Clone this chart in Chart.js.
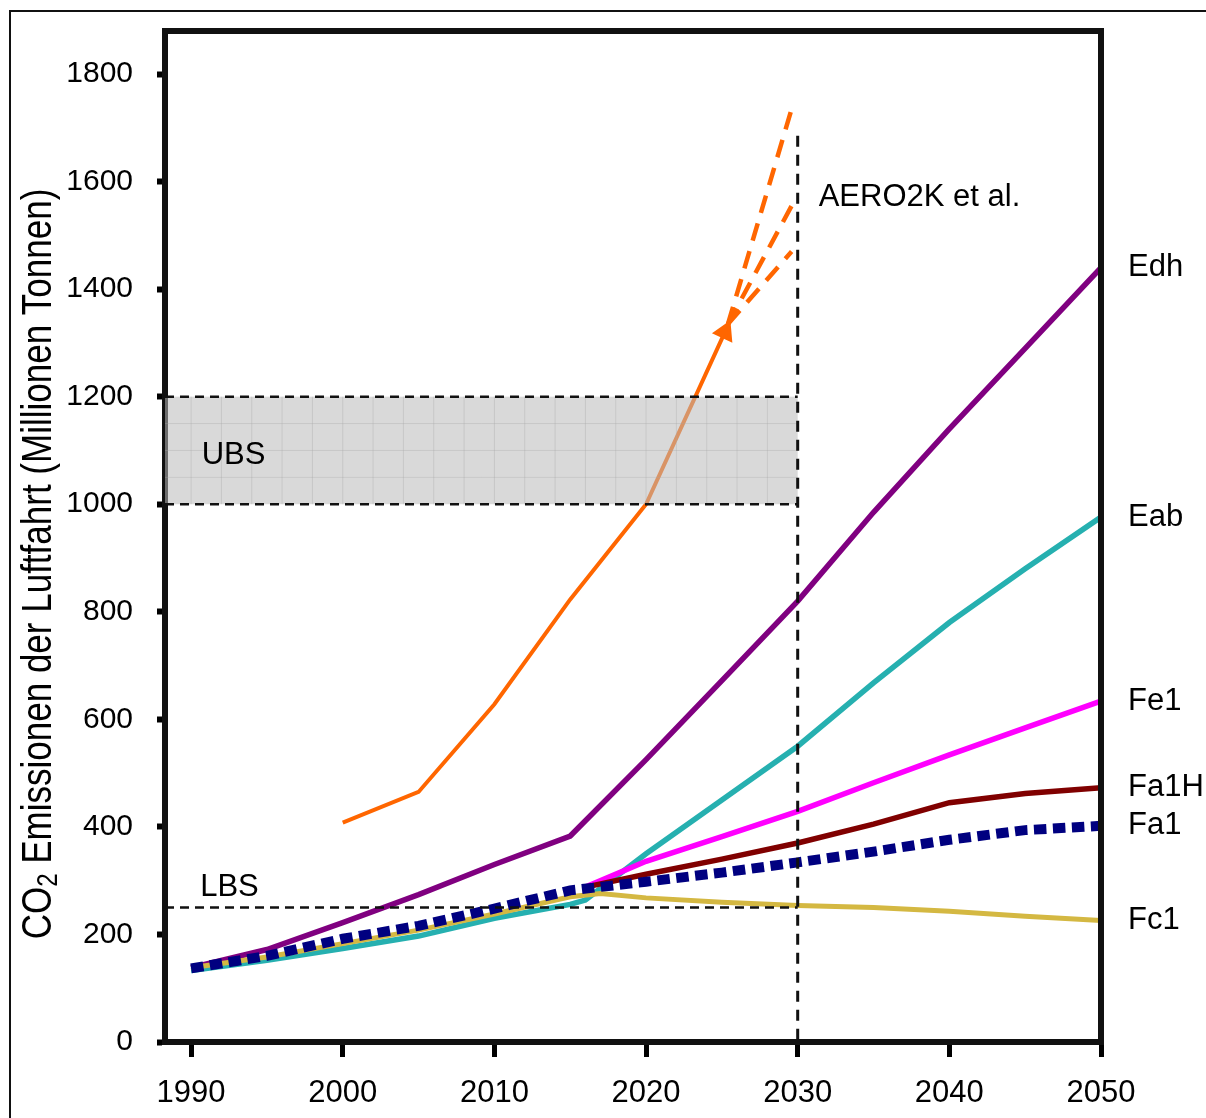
<!DOCTYPE html>
<html>
<head>
<meta charset="utf-8">
<title>CO2 Emissionen der Luftfahrt</title>
<script src="https://cdn.jsdelivr.net/npm/chart.js@4.4.1/dist/chart.umd.min.js"></script>
<style>
  html, body { margin: 0; padding: 0; background: #fff; }
  #wrap { width: 1206px; height: 1118px; }
</style>
</head>
<body>
<div id="wrap"><canvas id="chart" width="1206" height="1118"></canvas></div>
<script>
// Values (Mt CO2)
const edhYears = [1990, 1995, 2000, 2005, 2010, 2015, 2020, 2025, 2030, 2035, 2040, 2045, 2050];
const edhValues = [138, 172, 222, 274, 330, 383, 525, 672, 820, 985, 1140, 1290, 1440];

const eabYears = [1990, 1995, 2000, 2005, 2010, 2015, 2016, 2020, 2025, 2030, 2035, 2040, 2045, 2050];
const eabValues = [133, 152, 174, 197, 230, 256, 264, 350, 450, 550, 668, 780, 880, 976];

const fe1Years = [2016, 2020, 2025, 2030, 2035, 2040, 2045, 2050];
const fe1Values = [288, 336, 382, 429, 482, 534, 584, 634];

const fa1hYears = [2016, 2018, 2020, 2025, 2030, 2035, 2040, 2045, 2050];
const fa1hValues = [288, 300, 312, 340, 370, 405, 445, 462, 473];

const fa1Years = [1990, 1995, 2000, 2005, 2010, 2015, 2020, 2025, 2030, 2035, 2040, 2045, 2050];
const fa1Values = [137, 160, 192, 216, 248, 282, 298, 315, 334, 354, 376, 394, 402];

const fc1Years = [1990, 1995, 2000, 2005, 2010, 2015, 2017, 2020, 2025, 2030, 2035, 2040, 2045, 2050];
const fc1Values = [138, 158, 183, 208, 238, 270, 276, 268, 260, 254, 250, 243, 234, 226];

// AERO2K et al. (solid part, then three dashed extrapolations)
const aeroYears = [2000, 2005, 2010, 2015, 2020, 2025.2];
const aeroValues = [408, 465, 628, 823, 1000, 1320];
const aeroFanStart = [2025.4, 1335];
const aeroFanEndYear = 2029.6;
const aeroFanEnds = [1735, 1555, 1470];

// Reference levels
const lbsLevel = 250;
const ubsBand = [1000, 1200];
const markerYear = 2030;
const markerTop = 1685;

const xTicks = [1990, 2000, 2010, 2020, 2030, 2040, 2050];
const yTicks = [0, 200, 400, 600, 800, 1000, 1200, 1400, 1600, 1800];

const FONT = '"Liberation Sans", Arial, sans-serif';

function pts(xs, ys) {
  return xs.map((x, i) => ({ x: x, y: ys[i] }));
}

function line(label, xs, ys, color, width, extra) {
  return Object.assign({
    label: label,
    data: pts(xs, ys),
    borderColor: color,
    backgroundColor: color,
    borderWidth: width,
    pointRadius: 0,
    tension: 0,
    fill: false,
    borderCapStyle: 'butt',
  }, extra || {});
}

const datasets = [
  line('Fa1', fa1Years, fa1Values, '#000080', 10, { borderDash: [12.5, 6.5] }),
  line('Fa1H', fa1hYears, fa1hValues, '#800000', 5.5),
  line('Fe1', fe1Years, fe1Values, '#ff00ff', 5.5),
  line('Fc1', fc1Years, fc1Values, '#d4b842', 5),
  line('Eab', eabYears, eabValues, '#26b0b0', 5.5),
  line('Edh', edhYears, edhValues, '#800080', 5.5),
  line('AERO2K', aeroYears, aeroValues, '#ff6600', 4, {
    pointStyle: 'triangle',
    pointRotation: 25,
    pointRadius: ctx => ctx.dataIndex === aeroYears.length - 1 ? 9 : 0,
  }),
];
aeroFanEnds.forEach(v => {
  datasets.push(line('AERO2K+', [aeroFanStart[0], aeroFanEndYear], [aeroFanStart[1], v],
    '#ff6600', 4.5, { borderDash: [18, 11] }));
});

const rightLabels = ['Edh', 'Eab', 'Fe1', 'Fa1H', 'Fa1', 'Fc1'];

const notes = {
  id: 'notes',
  afterDatasetsDraw(chart) {
    const { ctx, chartArea: a, scales: { x, y } } = chart;
    const xm = x.getPixelForValue(markerYear);
    ctx.save();

    // UBS band
    const top = y.getPixelForValue(ubsBand[1]);
    const bot = y.getPixelForValue(ubsBand[0]);
    ctx.fillStyle = 'rgba(185,185,185,0.55)';
    ctx.fillRect(a.left, top, xm - a.left, bot - top);
    ctx.strokeStyle = 'rgba(165,165,165,0.35)';
    ctx.lineWidth = 1;
    ctx.beginPath();
    for (let yr = 1990; yr < markerYear; yr += 2) {
      const px = x.getPixelForValue(yr);
      ctx.moveTo(px, top); ctx.lineTo(px, bot);
    }
    for (let v = ubsBand[0] + 50; v < ubsBand[1]; v += 50) {
      const py = y.getPixelForValue(v);
      ctx.moveTo(a.left, py); ctx.lineTo(xm, py);
    }
    ctx.stroke();

    ctx.strokeStyle = '#111';
    ctx.lineWidth = 2.5;
    ctx.setLineDash([9, 6]);
    ctx.beginPath();
    ctx.moveTo(a.left, top); ctx.lineTo(xm, top);
    ctx.moveTo(a.left, bot); ctx.lineTo(xm, bot);
    const yl = y.getPixelForValue(lbsLevel);
    ctx.moveTo(a.left, yl); ctx.lineTo(xm, yl);
    ctx.stroke();

    ctx.lineWidth = 3;
    ctx.setLineDash([11, 8]);
    ctx.beginPath();
    ctx.moveTo(xm, y.getPixelForValue(markerTop));
    ctx.lineTo(xm, a.bottom);
    ctx.stroke();
    ctx.setLineDash([]);

    // text notes
    ctx.fillStyle = '#000';
    ctx.font = '31px ' + FONT;
    ctx.textAlign = 'left';
    ctx.textBaseline = 'middle';
    ctx.fillText('AERO2K et al.', xm + 21, y.getPixelForValue(1570));
    ctx.fillText('UBS', x.getPixelForValue(1990.7), y.getPixelForValue(1090));
    ctx.fillText('LBS', x.getPixelForValue(1990.6), y.getPixelForValue(287));

    // scenario names at the line ends
    rightLabels.forEach(name => {
      const d = chart.data.datasets.find(s => s.label === name);
      const last = d.data[d.data.length - 1];
      ctx.fillText(name, a.right + 27, y.getPixelForValue(last.y));
    });
    ctx.restore();
  },
  afterDraw(chart) {
    const { ctx, chartArea: a } = chart;
    ctx.save();
    // top and right frame
    ctx.strokeStyle = '#111';
    ctx.lineWidth = 6;
    ctx.lineCap = 'square';
    ctx.beginPath();
    ctx.moveTo(a.left, a.top);
    ctx.lineTo(a.right, a.top);
    ctx.lineTo(a.right, a.bottom);
    ctx.stroke();

    // outer thin frame
    ctx.lineWidth = 2;
    ctx.lineCap = 'butt';
    ctx.beginPath();
    ctx.moveTo(10, chart.height);
    ctx.lineTo(10, 11);
    ctx.lineTo(chart.width, 11);
    ctx.stroke();

    // y axis title with subscript
    const big = '35px ' + FONT, small = '24px ' + FONT;
    const pA = 'CO', pS = '2', pB = ' Emissionen der Luftfahrt (Millionen Tonnen)';
    ctx.translate(51, 564);
    ctx.rotate(-Math.PI / 2);
    ctx.scale(1, 1.2);
    ctx.fillStyle = '#000';
    ctx.textBaseline = 'alphabetic';
    ctx.textAlign = 'left';
    ctx.font = big;
    const wA = ctx.measureText(pA).width, wB = ctx.measureText(pB).width;
    ctx.font = small;
    const wS = ctx.measureText(pS).width;
    let px = -(wA + wS + wB) / 2;
    ctx.font = big;
    ctx.fillText(pA, px, 0);
    px += wA;
    ctx.font = small;
    ctx.fillText(pS, px, 5);
    px += wS;
    ctx.font = big;
    ctx.fillText(pB, px, 0);
    ctx.restore();
  }
};

new Chart(document.getElementById('chart'), {
  type: 'line',
  data: { datasets: datasets },
  options: {
    responsive: false,
    animation: false,
    events: [],
    layout: { padding: { left: 0, right: 105, top: 31, bottom: 0 } },
    plugins: { legend: { display: false }, tooltip: { enabled: false } },
    scales: {
      x: {
        type: 'linear',
        min: 1988.28,
        max: 2050,
        afterFit(s) { s.height = 76; s.paddingLeft = 0; s.paddingRight = 0; },
        afterBuildTicks(s) { s.ticks = xTicks.map(v => ({ value: v })); },
        grid: { drawOnChartArea: false, drawTicks: true, tickLength: 15, tickWidth: 5, tickColor: '#000' },
        border: { display: true, width: 6, color: '#111' },
        ticks: { color: '#000', font: { size: 31, family: FONT }, padding: 18, maxRotation: 0,
          callback: v => String(v) }
      },
      y: {
        min: 0,
        max: 1880,
        afterFit(s) { s.width = 165; s.paddingTop = 0; s.paddingBottom = 0; },
        afterBuildTicks(s) { s.ticks = yTicks.map(v => ({ value: v })); },
        grid: { drawOnChartArea: false, drawTicks: true, tickLength: 8, tickWidth: 6, tickColor: '#000' },
        border: { display: true, width: 6, color: '#111' },
        ticks: { color: '#000', font: { size: 30, family: FONT }, padding: 24,
          callback: v => String(v) }
      }
    }
  },
  plugins: [notes]
});
</script>
</body>
</html>
